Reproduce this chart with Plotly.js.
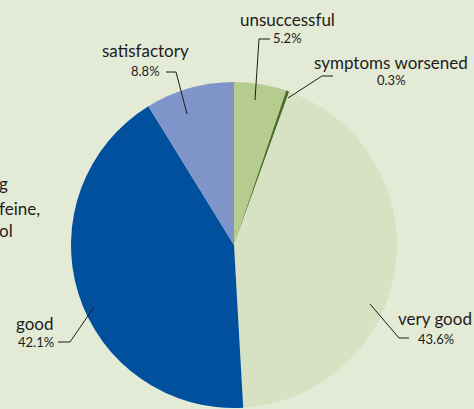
<!DOCTYPE html>
<html>
<head>
<meta charset="utf-8">
<script src="https://cdn.plot.ly/plotly-3.0.1.min.js"></script>
<style>html,body{margin:0;padding:0;background:#e3ebd6;}#chart{width:474px;height:409px;}</style>
</head>
<body>
<div id="chart"></div>
<script>
// Data
const categories = ["unsuccessful", "symptoms worsened", "very good", "good", "satisfactory"];
const percents = [5.2, 0.3, 43.6, 42.1, 8.8];
const percentLabels = ["5.2%", "0.3%", "43.6%", "42.1%", "8.8%"];
const sliceColors = ["#b5cc8e", "#4b6c2c", "#d7e2c2", "#00509e", "#7f95c9"];
const sideText = ["g", "feine,", "ol"];

const W = 474, H = 409;
const px = x => x / W;
const py = y => 1 - y / H;
const FONT = "Lato, 'DejaVu Sans', sans-serif";
const TXT = "#1e1b1c";

// label placement (pixels): name centre, percent centre, leader path
const labelPos = {
  "unsuccessful":      {nx: 287, ny: 19, sx: 287, sy: 38, lead: [[270,39],[259,39],[255,100]]},
  "symptoms worsened": {nx: 391, ny: 62, sx: 391, sy: 80, lead: [[333,76],[322,76],[288,98]]},
  "very good":         {nx: 435, ny: 318, sx: 436, sy: 339, lead: [[409,338],[399,338],[370,304]]},
  "good":              {nx: 35, ny: 323, sx: 36, sy: 342, lead: [[58,342],[70,342],[94,307]]},
  "satisfactory":      {nx: 145, ny: 50, sx: 145, sy: 71, lead: [[166,72],[176,72],[187,114]]}
};

const annotations = [];
const shapes = [];
categories.forEach((c, i) => {
  const p = labelPos[c];
  annotations.push({xref:'paper', yref:'paper', x: px(p.nx), y: py(p.ny), text: c, showarrow:false,
    xanchor:'center', yanchor:'middle', font:{family: FONT, size: 17, color: TXT}});
  annotations.push({xref:'paper', yref:'paper', x: px(p.sx), y: py(p.sy), text: percentLabels[i], showarrow:false,
    xanchor:'center', yanchor:'middle', font:{family: FONT, size: 13, color: TXT}});
  const d = p.lead.map((pt, k) => (k ? 'L' : 'M') + px(pt[0]) + ',' + py(pt[1])).join(' ');
  shapes.push({type:'path', xref:'paper', yref:'paper', path: d, line:{color: TXT, width: 1}});
});
const sideY = [183, 208, 230];
sideText.forEach((t, i) => {
  annotations.push({xref:'paper', yref:'paper', x: 0, y: py(sideY[i]), text: t, showarrow:false,
    xanchor:'left', yanchor:'middle', borderpad: 0, xshift: -2,
    font:{family: FONT, size: 17, color: TXT}});
});

const trace = {
  type: 'pie',
  labels: categories,
  values: percents,
  sort: false,
  direction: 'clockwise',
  rotation: 0,
  marker: {colors: sliceColors, line: {width: 0}},
  textinfo: 'none',
  hoverinfo: 'none',
  showlegend: false,
  domain: {x: [px(71), px(397)], y: [py(408), py(82)]}
};

Plotly.newPlot('chart', [trace], {
  width: W, height: H,
  margin: {l:0, r:0, t:0, b:0},
  paper_bgcolor: '#e3ebd6',
  plot_bgcolor: '#e3ebd6',
  showlegend: false,
  annotations: annotations,
  shapes: shapes
}, {displayModeBar: false, staticPlot: true});
</script>
</body>
</html>
